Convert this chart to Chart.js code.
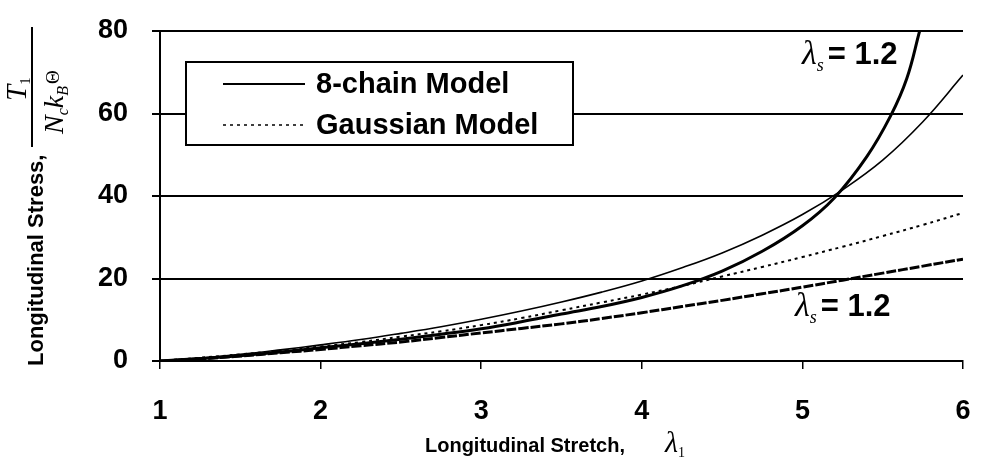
<!DOCTYPE html>
<html>
<head>
<meta charset="utf-8">
<script src="https://cdn.jsdelivr.net/npm/chart.js@4.4.1/dist/chart.umd.min.js"></script>
<style>
  html, body { margin: 0; padding: 0; background: #fff; }
  #wrap { width: 981px; height: 462px; position: relative; }
</style>
</head>
<body>
<div id="wrap"><canvas id="stressChart"></canvas></div>
<script>
// longitudinal stretch values (x) shared by three curves
var stretch = [1, 1.25, 1.5, 1.75, 2, 2.25, 2.5, 2.75, 3, 3.25, 3.5, 3.75, 4, 4.25, 4.5, 4.75, 5, 5.25, 5.5, 5.75, 6];
var eightChainThin = [0, 0.7, 1.6, 2.7, 3.9, 5.2, 6.7, 8.3, 10.1, 12.1, 14.3, 16.7, 19.4, 22.6, 26.2, 30.5, 35.5, 41.5, 48.7, 58, 69.3];
var gaussianDotted = [0, 0.8, 1.6, 2.5, 3.5, 4.6, 5.9, 7.2, 8.7, 10.4, 12.3, 14.2, 16.1, 18.2, 20.5, 22.8, 25.2, 27.7, 30.3, 33, 35.9];
var gaussianLow = [0, 0.5, 1.2, 2, 2.8, 3.7, 4.6, 5.7, 6.8, 7.9, 9.0, 10.3, 11.7, 13.2, 14.7, 16.3, 17.9, 19.6, 21.3, 23, 24.7];

// steep 8-chain curve (lambda_s = 1.2), runs off the top of the plot
var stretchSteep = [1, 1.25, 1.5, 1.75, 2, 2.25, 2.5, 2.75, 3, 3.25, 3.5, 3.75, 4, 4.25, 4.5, 4.75, 5, 5.2, 5.4, 5.55, 5.65, 5.73];
var eightChainSteep = [0, 0.6, 1.3, 2.2, 3.2, 4.2, 5.3, 6.5, 7.8, 9.5, 11.4, 13.2, 15.4, 18.2, 21.8, 26.6, 32.8, 39.6, 49.5, 59.5, 68.5, 80];

var xTicks = [1, 2, 3, 4, 5, 6];
var yTicks = [0, 20, 40, 60, 80];
var legendLabels = ['8-chain Model', 'Gaussian Model'];

function pairs(xs, ys) {
    var out = [];
    for (var i = 0; i < xs.length; i++) {
        out.push({ x: xs[i], y: ys[i] });
    }
    return out;
}

// draws a row of text pieces with their own fonts, left to right
function drawRuns(ctx, x, y, runs) {
    var cx = x;
    runs.forEach(function(r) {
        ctx.font = r.font;
        ctx.fillText(r.text, cx, y + (r.dy || 0));
        cx += ctx.measureText(r.text).width + (r.gap || 0);
    });
}

// keep the plot box where the original has it
function noScalePadding(scale) {
    scale.paddingTop = 0;
    scale.paddingBottom = 0;
    scale.paddingLeft = 0;
    scale.paddingRight = 0;
}

var SANS = '"Liberation Sans", Arial, sans-serif';
var SERIF = '"Liberation Serif", "DejaVu Serif", serif';

var extrasPlugin = {
    id: 'extras',
    afterDatasetsDraw: function(chart) {
        var ctx = chart.ctx;
        ctx.save();
        ctx.fillStyle = '#000';
        ctx.strokeStyle = '#000';
        ctx.textBaseline = 'alphabetic';
        ctx.textAlign = 'left';

        // legend box
        ctx.fillStyle = '#fff';
        ctx.fillRect(186, 62, 387, 83);
        ctx.lineWidth = 2;
        ctx.strokeRect(186, 62, 387, 83);
        ctx.fillStyle = '#000';

        ctx.lineWidth = 2;
        ctx.beginPath();
        ctx.moveTo(223, 84);
        ctx.lineTo(305, 84);
        ctx.stroke();

        ctx.lineWidth = 1.5;
        ctx.setLineDash([3, 4]);
        ctx.beginPath();
        ctx.moveTo(223, 125);
        ctx.lineTo(305, 125);
        ctx.stroke();
        ctx.setLineDash([]);

        ctx.font = 'bold 29px ' + SANS;
        ctx.textBaseline = 'middle';
        ctx.fillText(legendLabels[0], 316, 85);
        ctx.fillText(legendLabels[1], 316, 126);
        ctx.textBaseline = 'alphabetic';

        // lambda_s annotations
        var lamRuns = [
            { text: 'λ', font: 'italic 34px ' + SERIF },
            { text: 's', font: 'italic 18px ' + SERIF, dy: 7, gap: 4 },
            { text: '= 1.2', font: 'bold 31px ' + SANS }
        ];
        drawRuns(ctx, 802, 64, lamRuns);
        drawRuns(ctx, 795, 316, lamRuns);

        // x axis title
        drawRuns(ctx, 425, 452, [
            { text: 'Longitudinal Stretch,', font: 'bold 20px ' + SANS, gap: 40 },
            { text: 'λ', font: 'italic 30px ' + SERIF },
            { text: '1', font: '14px ' + SERIF, dy: 5 }
        ]);

        // y axis title (rotated)
        ctx.save();
        ctx.translate(43, 366);
        ctx.rotate(-Math.PI / 2);
        ctx.font = 'bold 22px ' + SANS;
        ctx.fillText('Longitudinal Stress,', 0, 0);
        ctx.restore();

        ctx.fillRect(31, 27, 2, 120);

        ctx.save();
        ctx.translate(26, 101);
        ctx.rotate(-Math.PI / 2);
        drawRuns(ctx, 0, 0, [
            { text: 'T', font: 'italic 29px ' + SERIF },
            { text: '1', font: '15px ' + SERIF, dy: 4 }
        ]);
        ctx.restore();

        ctx.save();
        ctx.translate(63, 134);
        ctx.rotate(-Math.PI / 2);
        drawRuns(ctx, 0, 0, [
            { text: 'N', font: 'italic 28px ' + SERIF },
            { text: 'c', font: 'italic 16px ' + SERIF, dy: 5 },
            { text: 'k', font: 'italic 28px ' + SERIF },
            { text: 'B', font: 'italic 16px ' + SERIF, dy: 5, gap: 2 },
            { text: 'Θ', font: '19px ' + SERIF, dy: -4 }
        ]);
        ctx.restore();

        ctx.restore();
    }
};

var chart = new Chart(document.getElementById('stressChart'), {
    type: 'line',
    data: {
        datasets: [{
            label: '8-chain Model',
            data: pairs(stretch, eightChainThin),
            borderColor: '#000',
            borderWidth: 1.6,
            pointRadius: 0,
            tension: 0.4
        }, {
            label: '8-chain Model, λs = 1.2',
            data: pairs(stretchSteep, eightChainSteep),
            borderColor: '#000',
            borderWidth: 3,
            pointRadius: 0,
            tension: 0.4
        }, {
            label: 'Gaussian Model',
            data: pairs(stretch, gaussianDotted),
            borderColor: '#000',
            borderWidth: 2,
            borderDash: [3, 4],
            pointRadius: 0,
            tension: 0.4
        }, {
            label: 'Gaussian Model, λs = 1.2',
            data: pairs(stretch, gaussianLow),
            borderColor: '#000',
            borderWidth: 3,
            borderDash: [10, 2],
            pointRadius: 0,
            tension: 0.4
        }]
    },
    options: {
        responsive: true,
        maintainAspectRatio: false,
        animation: false,
        layout: { padding: { top: 31, right: 18, left: 0, bottom: 0 } },
        plugins: {
            legend: { display: false },
            tooltip: { enabled: false },
            title: { display: false }
        },
        scales: {
            x: {
                type: 'linear',
                min: 1,
                max: 6,
                afterFit: function(scale) {
                    scale.height = 101;
                    noScalePadding(scale);
                },
                afterBuildTicks: function(scale) {
                    scale.ticks = xTicks.map(function(v) { return { value: v }; });
                },
                border: { display: true, color: '#000', width: 2 },
                grid: {
                    drawOnChartArea: false,
                    drawTicks: true,
                    tickLength: 8,
                    color: '#000',
                    lineWidth: 1.5
                },
                ticks: {
                    color: '#000',
                    padding: 26,
                    maxRotation: 0,
                    font: { family: SANS, size: 27, weight: 'bold' }
                }
            },
            y: {
                min: 0,
                max: 80,
                afterFit: function(scale) {
                    scale.width = 160;
                    noScalePadding(scale);
                },
                afterBuildTicks: function(scale) {
                    scale.ticks = yTicks.map(function(v) { return { value: v }; });
                },
                border: { display: true, color: '#000', width: 2 },
                grid: {
                    drawOnChartArea: true,
                    drawTicks: true,
                    tickLength: 8,
                    color: '#000',
                    lineWidth: 2
                },
                ticks: {
                    color: '#000',
                    padding: 24,
                    font: { family: SANS, size: 27, weight: 'bold' }
                }
            }
        }
    },
    plugins: [extrasPlugin]
});
</script>
</body>
</html>
